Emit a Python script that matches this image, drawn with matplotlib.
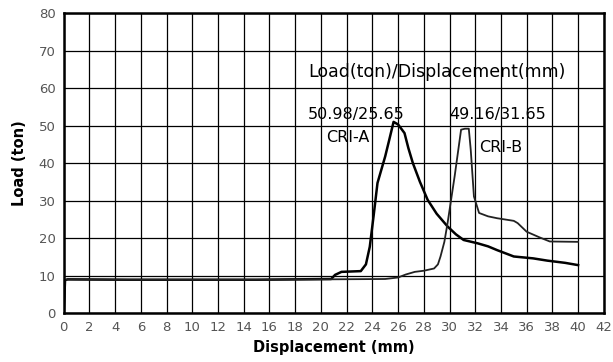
import matplotlib.pyplot as plt
import numpy as np

# Curve CRI-A (displacement mm, load ton)
disp_a = [0.0, 0.1, 0.3, 5, 10, 15, 20.8, 21.1, 21.6, 23.1, 23.5, 23.8, 24.1, 24.4, 25.0, 25.3, 25.65,
          26.0, 26.5, 26.8, 27.15, 27.7, 28.3, 29.0, 29.85, 30.5, 31.1, 32.2, 33.0, 33.7, 35.0, 36.5,
          37.6, 39.0, 40.0]
load_a = [0.0, 8.8, 9.0, 8.9, 8.9, 8.9, 9.1, 10.2, 11.0, 11.2, 13.0, 17.7, 26.0, 34.7, 41.8, 46.0, 50.98,
          50.3, 48.0, 44.0, 40.0, 35.0, 30.2, 26.5, 23.1, 21.0, 19.5, 18.6, 17.8, 16.8, 15.1, 14.6,
          14.0, 13.4, 12.8]

# Curve CRI-B
disp_b = [0.0, 0.1, 0.3, 5, 10, 15, 20, 25.0, 26.0, 26.6, 27.3, 28.0, 28.8, 29.1, 29.3, 29.6, 29.85,
          30.4, 30.9, 31.2, 31.5, 31.65, 31.9, 32.3, 33.0, 33.7, 35.0, 35.3, 36.0, 37.0, 37.8, 40.0]
load_b = [0.0, 8.8, 9.0, 8.9, 8.9, 8.9, 9.0, 9.1, 9.5, 10.3, 11.0, 11.3, 11.9, 13.0, 15.1, 19.0, 24.0,
          36.5, 48.9, 49.16, 49.16, 43.6, 31.1, 26.7, 25.8, 25.3, 24.6, 24.0, 21.7, 20.2, 19.1, 19.0]

fig = plt.figure(figsize=(6.13, 3.62), dpi=100)
ax = fig.add_axes([0.104, 0.135, 0.881, 0.829])

ax.plot(disp_a, load_a, color='black', lw=1.8)
ax.plot(disp_b, load_b, color='#222222', lw=1.3)

ax.set_xlim(0, 42)
ax.set_ylim(0, 80)
ax.set_xticks(np.arange(0, 43, 2))
ax.set_yticks(np.arange(0, 81, 10))
ax.grid(True, color='black', lw=0.9)
ax.tick_params(length=0, labelsize=9.5, labelcolor='#555555', pad=6)
for s in ax.spines.values():
    s.set_linewidth(1.8)

ax.set_xlabel('Displacement (mm)', fontsize=10.5, fontweight='bold', labelpad=4)
ax.set_ylabel('Load (ton)', fontsize=10.5, fontweight='bold', labelpad=8)

ax.text(19.0, 64.2, 'Load(ton)/Displacement(mm)', fontsize=12.5, va='center', ha='left')
ax.text(19.0, 53.0, '50.98/25.65', fontsize=11.5, va='center', ha='left')
ax.text(20.4, 46.8, 'CRI-A', fontsize=11.5, va='center', ha='left')
ax.text(30.0, 53.0, '49.16/31.65', fontsize=11.5, va='center', ha='left')
ax.text(32.3, 44.1, 'CRI-B', fontsize=11.5, va='center', ha='left')

fig.savefig('out.png', dpi=100)
